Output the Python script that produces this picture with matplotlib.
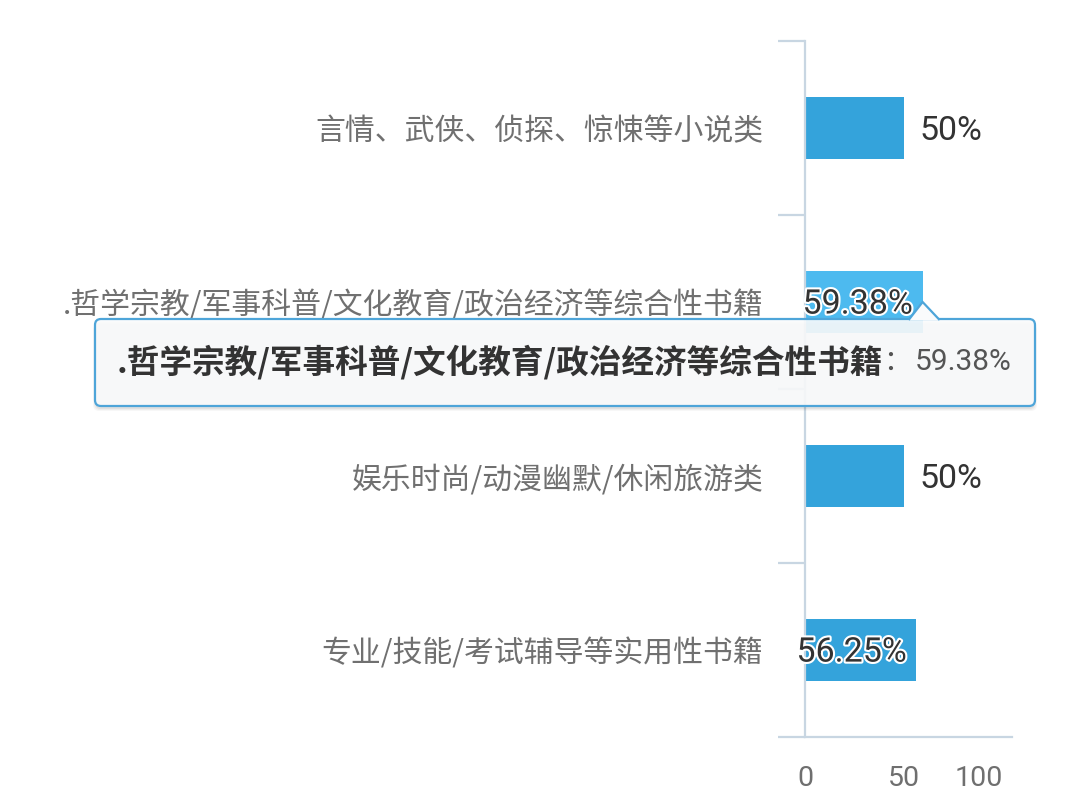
import matplotlib.pyplot as plt
import matplotlib.patheffects as pe
from matplotlib.patches import FancyBboxPatch, Polygon

plt.rcParams['font.family'] = ['Noto Sans CJK SC', 'DejaVu Sans']
num_font = ['Roboto', 'DejaVu Sans']

categories = ['言情、武侠、侦探、惊悚等小说类',
              '.哲学宗教/军事科普/文化教育/政治经济等综合性书籍',
              '娱乐时尚/动漫幽默/休闲旅游类',
              '专业/技能/考试辅导等实用性书籍']
values = [50, 59.38, 50, 56.25]
value_labels = ['50%', '59.38%', '50%', '56.25%']
xticks = [0, 50, 100]
hover = 1  # bar under the mouse, gets the tooltip

W, H = 1080, 805
fig = plt.figure(figsize=(W / 100, H / 100), dpi=100)
ax = fig.add_axes([805 / W, 1 - 737 / H, (1012 - 805) / W, (737 - 41) / H])

pos = list(range(len(categories)))
colors = ['#4dbaef' if i == hover else '#34a3db' for i in pos]
ax.barh(pos, values, height=0.36, color=colors, zorder=2)
ax.set_xlim(0, 104.5)
ax.set_ylim(len(categories) - 0.5, -0.5)

axis_col = '#c8d6e2'
for s in ['top', 'right']:
    ax.spines[s].set_visible(False)
for s in ['left', 'bottom']:
    ax.spines[s].set_color(axis_col)
    ax.spines[s].set_linewidth(1.6)

# category labels on major ticks, band boundaries on minor ticks
ax.set_yticks(pos)
ax.set_yticklabels(categories, fontsize=21.5, color='#707070')
ax.tick_params(axis='y', which='major', length=0, pad=30)
ax.set_yticks([p - 0.5 for p in pos] + [pos[-1] + 0.5], minor=True)
ax.tick_params(axis='y', which='minor', length=19.5, width=1.6, color=axis_col)

ax.set_xticks(xticks)
ax.set_xticklabels([str(t) for t in xticks], fontsize=20.5, color='#6f6f6f',
                   family=num_font)
ax.tick_params(axis='x', length=0, pad=20)
ax.get_xticklabels()[-1].set_horizontalalignment('right')

glow = [pe.withStroke(linewidth=3, foreground='white')]
for i, v in enumerate(values):
    if v > 55:
        ax.text(v - 5, i + 0.015, value_labels[i], ha='right', va='center',
                family=num_font, fontsize=24.5, color='#333333',
                path_effects=glow, zorder=3)
    else:
        ax.text(v + 8, i + 0.015, value_labels[i], ha='left', va='center',
                family=num_font, fontsize=24.5, color='#333333', zorder=3)


# tooltip, drawn in pixel-like units (inches at dpi 100, origin top-left)
def inch(x, y):
    return (x / 100, (H - y) / 100)


tr = fig.dpi_scale_trans
bx0, by0, bx1, by1 = 95, 319, 1035, 406
for k, a in enumerate([0.05, 0.04, 0.03]):
    sh = FancyBboxPatch(inch(bx0 - k, by1 + 3 + k), (bx1 - bx0 + 2 * k) / 100,
                        (by1 - by0) / 100, boxstyle='round,pad=0,rounding_size=0.06',
                        fc=(0, 0, 0, a), ec='none', transform=tr, zorder=4)
    fig.add_artist(sh)
box = FancyBboxPatch(inch(bx0, by1), (bx1 - bx0) / 100, (by1 - by0) / 100,
                     boxstyle='round,pad=0,rounding_size=0.06',
                     fc=(0.98, 0.985, 0.99, 0.9), ec='#4ea5d9', lw=1.6,
                     transform=tr, zorder=5)
fig.add_artist(box)

tip_x = 805 + values[hover] * (1012 - 805) / 104.5
arrow = Polygon([inch(tip_x - 14, by0 + 1), inch(tip_x, 302), inch(tip_x + 17, by0 + 1)],
                closed=False, fc=(0.98, 0.985, 0.99, 1), ec='#4ea5d9', lw=1.6,
                transform=tr, zorder=6)
fig.add_artist(arrow)

ty = 1 - 362 / H
name = fig.text(117 / W, ty, categories[hover], fontsize=23.5, weight='bold',
                color='#333333', va='center', zorder=7)
fig.canvas.draw()
bb = name.get_window_extent(fig.canvas.get_renderer())
fig.text(bb.x1 / W, ty, '：', fontsize=20, color='#555555', va='center', zorder=7)
fig.text(1012 / W, ty, value_labels[hover], fontsize=21.5, color='#555555',
         ha='right', va='center', family=num_font, zorder=7)

fig.savefig('out.png', dpi=100, facecolor='white')
